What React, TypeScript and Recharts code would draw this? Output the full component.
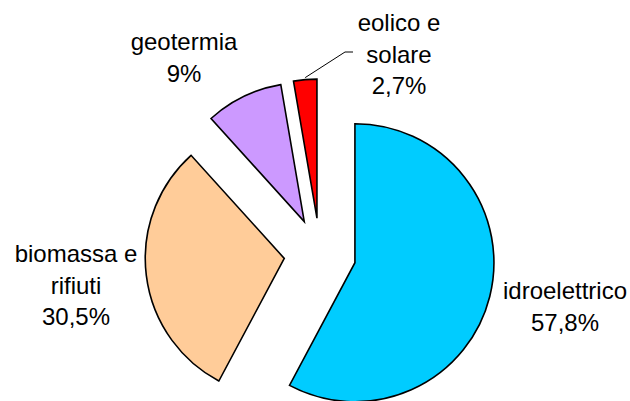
import { Pie, PieChart, Sector } from "recharts";

const categories = ["idroelettrico", "biomassa e\nrifiuti", "geotermia", "eolico e\nsolare"];
const shares = [57.8, 30.5, 9, 2.7];
const colors = ["#00ccff", "#ffcc99", "#cc99ff", "#ff0000"];

// where the text of each label sits (centre x, first baseline y), like the manual Excel placement
const LABEL_POS = [
  { x: 565, y: 299 },
  { x: 76, y: 262 },
  { x: 184, y: 50 },
  { x: 399, y: 31 },
];

const EXPLODE = 36;
const RAD = Math.PI / 180;
const FONT = "'Liberation Sans', Arial, sans-serif";

const data = categories.map((name, i) => ({ name, value: shares[i] }));

const formatPct = (v: number) => `${String(v).replace(".", ",")}%`;

function ExplodedSlice(props: any) {
  const { cx, cy, outerRadius, startAngle, endAngle, midAngle, index } = props;
  const dx = EXPLODE * Math.cos(-midAngle * RAD);
  const dy = EXPLODE * Math.sin(-midAngle * RAD);
  const sx = cx + dx;
  const sy = cy + dy;
  const pos = LABEL_POS[index];
  const lines = [...data[index].name.split("\n"), formatPct(data[index].value)];

  // leader line only for the thin slice whose label was pulled away
  let leader = null;
  if (index === 3) {
    const ox = sx + outerRadius * Math.cos(-midAngle * RAD);
    const oy = sy + outerRadius * Math.sin(-midAngle * RAD);
    leader = (
      <polyline
        points={`${ox},${oy - 2} ${pos.x - 54},${pos.y + 21} ${pos.x - 46},${pos.y + 21}`}
        fill="none"
        stroke="#000"
        strokeWidth={1}
      />
    );
  }

  return (
    <g>
      <Sector
        cx={sx}
        cy={sy}
        innerRadius={0}
        outerRadius={outerRadius}
        startAngle={startAngle}
        endAngle={endAngle}
        fill={colors[index]}
        stroke="#000"
        strokeWidth={1.6}
      />
      {leader}
      <text x={pos.x} y={pos.y} textAnchor="middle" fontFamily={FONT} fontSize={24} fill="#000">
        {lines.map((t, i) => (
          <tspan key={i} x={pos.x} dy={i === 0 ? 0 : 31.5}>
            {t}
          </tspan>
        ))}
      </text>
    </g>
  );
}

export default function App() {
  return (
    <div style={{ position: "absolute", left: 0, top: 0, width: 630, height: 401, background: "#fff" }}>
      <PieChart width={630} height={401} margin={{ top: 0, right: 0, bottom: 0, left: 0 }}>
        <Pie
          data={data}
          dataKey="value"
          nameKey="name"
          cx={320}
          cy={254}
          innerRadius={0}
          outerRadius={139}
          startAngle={90}
          endAngle={-270}
          fill="none"
          stroke="none"
          label={(p: any) => <ExplodedSlice {...p} />}
          labelLine={false}
          isAnimationActive={false}
        />
      </PieChart>
    </div>
  );
}
